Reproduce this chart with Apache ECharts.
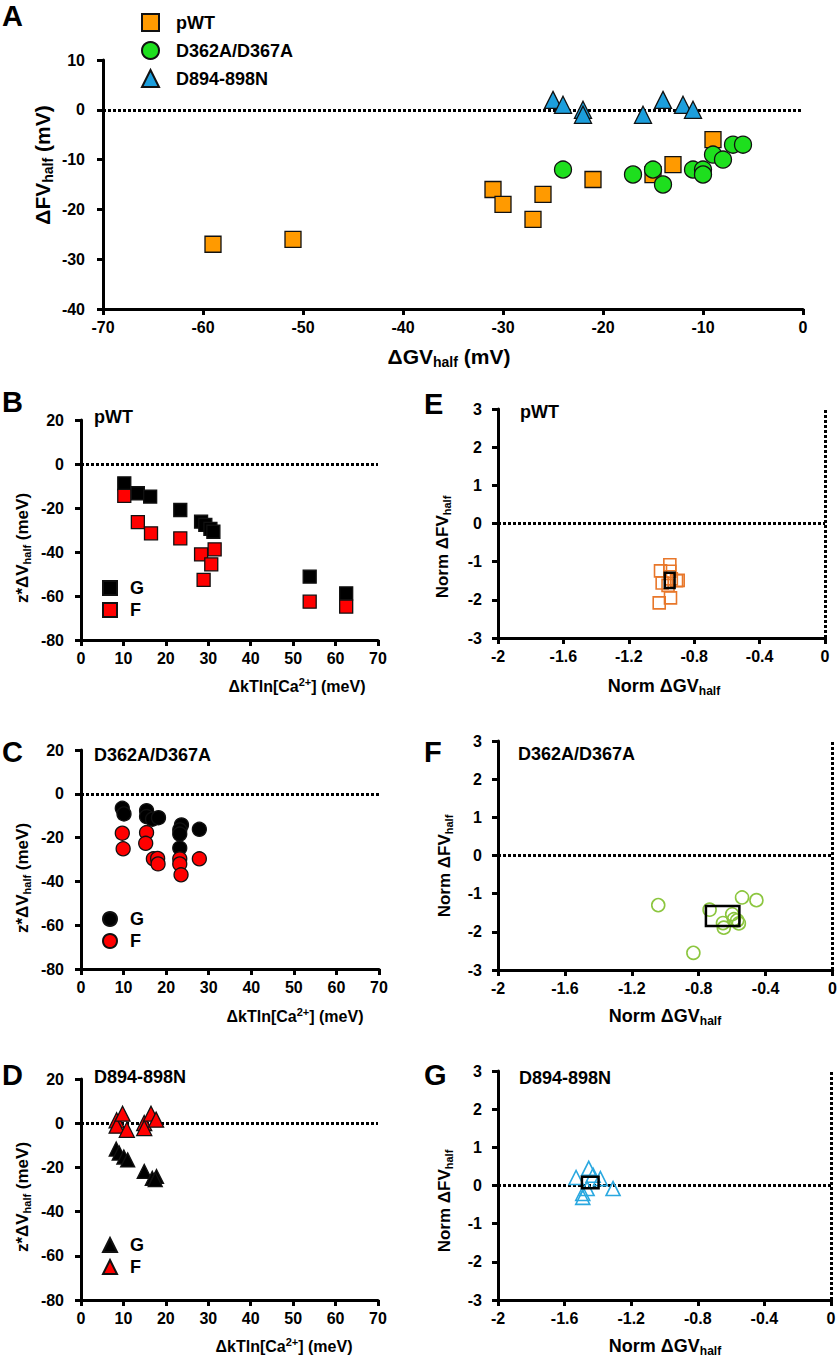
<!DOCTYPE html>
<html>
<head>
<meta charset="utf-8">
<script src="https://cdn.jsdelivr.net/npm/echarts@6/dist/echarts.min.js"></script>
<style>
  html, body { margin: 0; padding: 0; background: #fff; }
  #chart { width: 840px; height: 1358px; }
</style>
</head>
<body>
<div id="chart"></div>
<script>
// ---- data ----
// A: ΔGVhalf (x) vs ΔFVhalf (y), mV
const pwtA = [[-59, -27], [-51, -26], [-31, -16], [-30, -19], [-27, -22], [-26, -17], [-21, -14], [-15, -13], [-13, -11], [-9, -6]];
const d362A = [[-24, -12], [-17, -13], [-15, -12], [-14, -15], [-11, -12], [-10, -12], [-10, -13], [-9, -9], [-8, -10], [-7, -7], [-6, -7]];
const d894A = [[-25, 2], [-24, 1], [-22, 0], [-22, -1], [-16, -1], [-14, 2], [-12, 1], [-11, 0]];

// B-D: ΔkTln[Ca2+] (x) vs z*ΔVhalf (y), meV
const pwtG = [[10.2, -8.8], [13.4, -13.3], [16.3, -14.8], [23.4, -20.9], [28.3, -26.2], [29.3, -27.7], [30.5, -29.5], [31.2, -30.8], [53.9, -51.2], [62.5, -58.8]];
const pwtF = [[10.2, -14.5], [13.4, -26.4], [16.5, -31.5], [23.4, -33.8], [28.3, -41.1], [28.9, -52.7], [30.7, -45.6], [31.5, -38.8], [53.9, -62.6], [62.5, -64.8]];
const d362G = [[9.7, -6.6], [10.1, -9.2], [15.4, -7.7], [15.4, -10.4], [16.8, -11.6], [18.2, -10.9], [23.6, -14.2], [23.2, -16.5], [23.2, -18.4], [23.2, -24.8], [27.8, -16.2]];
const d362F = [[9.7, -18], [9.9, -25.1], [15.4, -17.7], [15.2, -22.6], [17, -29.7], [18, -29.5], [18.1, -32], [23.2, -29.7], [23.2, -32], [23.5, -37], [27.8, -29.7]];
const d894G = [[8.3, -11.7], [9, -13.5], [10.1, -15.3], [11, -16.6], [14.9, -21.8], [16.8, -24.9], [17.8, -24.1], [17.5, -25.5]];
const d894F = [[8.4, 1.3], [8.4, -1.1], [9.8, 4.3], [10.8, -3], [14.9, 0.1], [14.9, -2.2], [16.5, 4.3], [17.7, 1.6]];

// E-G: Norm ΔGVhalf (x) vs Norm ΔFVhalf (y)
const pwtNorm = [[-0.949, -1.08], [-0.949, -1.25], [-1.006, -1.24], [-0.996, -1.56], [-0.908, -1.5], [-0.898, -1.49], [-0.945, -1.95], [-1.014, -2.08], [-0.96, -1.62], [-0.94, -1.45]];
const d362Norm = [[-1.042, -1.3], [-0.832, -2.55], [-0.541, -1.1], [-0.455, -1.17], [-0.735, -1.42], [-0.6, -1.54], [-0.59, -1.67], [-0.655, -1.77], [-0.65, -1.89], [-0.56, -1.78], [-0.57, -1.7]];
const d894Norm = [[-1.531, 0.21], [-1.455, 0.45], [-1.429, 0.27], [-1.385, 0.18], [-1.309, -0.08], [-1.491, -0.21], [-1.491, -0.31], [-1.465, -0.08]];
// mean box: [x, y, half width, half height]
const pwtMean = [-0.95, -1.49, 0.03, 0.2];
const d362Mean = [-0.657, -1.585, 0.1, 0.26];
const d894Mean = [-1.446, 0.08, 0.05, 0.15];

const FONT = 'Liberation Sans, Arial, sans-serif';

const chart = echarts.init(document.getElementById('chart'), null, { renderer: 'svg' });

const grids = [
  { left: 103, top: 60, width: 700, height: 249 },   // A
  { left: 81, top: 420, width: 297, height: 220 },   // B
  { left: 81, top: 750, width: 298, height: 219 },   // C
  { left: 81, top: 1079, width: 297, height: 221 },  // D
  { left: 498, top: 409, width: 327, height: 229 },  // E
  { left: 498, top: 741, width: 336, height: 229 },  // F
  { left: 498, top: 1071, width: 333, height: 229 }  // G
];

function axis (gi, min, max, interval, margin) {
  return {
    type: 'value', gridIndex: gi, min: min, max: max, interval: interval,
    axisLine: { show: true, onZero: false, lineStyle: { color: '#000', width: 3 } },
    axisTick: { show: true, length: 6, lineStyle: { color: '#000', width: 3 } },
    axisLabel: { color: '#000', fontSize: 16, fontWeight: 'bold', fontFamily: FONT, margin: margin, showMinLabel: true, showMaxLabel: true },
    splitLine: { show: false }
  }
}

const xAxes = [axis(0, -70, 0, 10, 10)]
const yAxes = [axis(0, -40, 10, 10, 18)]
for (let i = 1; i <= 3; i++) {
  xAxes.push(axis(i, 0, 70, 10, 10))
  yAxes.push(axis(i, -80, 20, 20, 17))
}
for (let i = 4; i <= 6; i++) {
  xAxes.push(axis(i, -2, 0, 0.4, 10))
  yAxes.push(axis(i, -3, 3, 1, 16))
}

const dotted = { color: '#000', width: 3, type: [3, 2] }
function zeroLine (withX) {
  const d = [{ yAxis: 0 }]
  if (withX) d.push({ xAxis: 0 })
  return { silent: true, z: 1, symbol: 'none', label: { show: false }, lineStyle: dotted, emphasis: { disabled: true }, data: d }
}

function filled (name, gi, data, symbol, size, color, z, line) {
  const s = {
    name: name, type: 'scatter', xAxisIndex: gi, yAxisIndex: gi, data: data, z: z,
    symbol: symbol, symbolSize: size,
    itemStyle: { color: color, borderColor: '#111', borderWidth: 1.3, opacity: 1 }
  }
  if (line) s.markLine = zeroLine(false)
  return s
}

function open (name, gi, data, symbol, size, color) {
  return {
    name: name, type: 'scatter', xAxisIndex: gi, yAxisIndex: gi, data: data, z: 3,
    symbol: symbol, symbolSize: size,
    itemStyle: { color: 'rgba(255,255,255,0)', borderColor: color, borderWidth: 1.6, opacity: 1 },
    markLine: zeroLine(true)
  }
}

function meanBox (gi, box) {
  return {
    type: 'custom', xAxisIndex: gi, yAxisIndex: gi, z: 6, silent: true, data: [box],
    renderItem: function (params, api) {
      const p0 = api.coord([api.value(0) - api.value(2), api.value(1) + api.value(3)])
      const p1 = api.coord([api.value(0) + api.value(2), api.value(1) - api.value(3)])
      return {
        type: 'rect',
        shape: { x: p0[0], y: p0[1], width: p1[0] - p0[0], height: p1[1] - p0[1] },
        style: { fill: 'none', stroke: '#000', lineWidth: 2.5 }
      }
    }
  }
}

const series = [
  filled('pWT', 0, pwtA, 'rect', 16, '#FF9A00', 3, true),
  filled('D362A/D367A', 0, d362A, 'circle', 17, '#1EDF1E', 4),
  filled('D894-898N', 0, d894A, 'triangle', 17, '#1C9EDC', 4),
  filled('B-G', 1, pwtG, 'rect', 13, '#000', 3, true),
  filled('B-F', 1, pwtF, 'rect', 13, '#FF0000', 4),
  filled('C-G', 2, d362G, 'circle', 14, '#000', 3, true),
  filled('C-F', 2, d362F, 'circle', 14, '#FF0000', 4),
  filled('D-G', 3, d894G, 'triangle', 14, '#000', 3, true),
  filled('D-F', 3, d894F, 'triangle', 15, '#FF0000', 4),
  open('E', 4, pwtNorm, 'rect', 12, '#E8772A'),
  open('F', 5, d362Norm, 'circle', 13, '#8CC63F'),
  open('G', 6, d894Norm, 'triangle', 14, '#2AA8E0'),
  meanBox(4, pwtMean),
  meanBox(5, d362Mean),
  meanBox(6, d894Mean)
]

const legendText = { fontSize: 18, fontWeight: 'bold', fontFamily: FONT, color: '#000', padding: [0, 0, 0, 8] }
function smallLegend (top, names, icon) {
  return {
    orient: 'vertical', left: 97, top: top, itemWidth: 14, itemHeight: 14, itemGap: 4,
    selectedMode: false, icon: icon,
    formatter: function (n) { return n.slice(2) },
    textStyle: legendText, data: names
  }
}

const legends = [
  {
    orient: 'vertical', left: 136, top: 8, itemWidth: 17, itemHeight: 17, itemGap: 9, selectedMode: false,
    textStyle: { fontSize: 18, fontWeight: 'bold', fontFamily: FONT, color: '#000', padding: [0, 0, 0, 12] },
    data: [{ name: 'pWT', icon: 'rect' }, { name: 'D362A/D367A', icon: 'circle' }, { name: 'D894-898N', icon: 'triangle' }]
  },
  smallLegend(574, ['B-G', 'B-F'], 'rect'),
  smallLegend(905, ['C-G', 'C-F'], 'circle'),
  smallLegend(1231, ['D-G', 'D-F'], 'triangle')
]

function richSet (big, small, lift) {
  return {
    m: { fontSize: big, fontWeight: 'bold', fontFamily: FONT, fill: '#000' },
    s: { fontSize: small, fontWeight: 'bold', fontFamily: FONT, fill: '#000', padding: [lift, 0, 0, 0] },
    p: { fontSize: small, fontWeight: 'bold', fontFamily: FONT, fill: '#000', padding: [0, 0, lift, 0] }
  }
}
function txt (x, y, text, size, rot, align) {
  const small = Math.round(size * 0.66)
  return {
    type: 'text', x: x, y: y, rotation: rot || 0, silent: true,
    style: { text: text, rich: richSet(size, small, Math.round(size * 0.55)), fill: '#000', font: 'bold ' + size + 'px ' + FONT, align: align || 'center', verticalAlign: 'middle' }
  }
}
function letter (x, y, t) {
  return { type: 'text', x: x, y: y, silent: true, style: { text: t, fill: '#000', font: 'bold 29px ' + FONT, align: 'left', verticalAlign: 'middle' } }
}

const up = Math.PI / 2
const fvmV = '{m|ΔFV}{s|half}{m| (mV)}'
const gvmV = '{m|ΔGV}{s|half}{m| (mV)}'
const zdv = '{m|z*ΔV}{s|half}{m| (meV)}'
const ktln = '{m|ΔkTln[Ca}{p|2+}{m|] (meV)}'
const nfv = '{m|Norm ΔFV}{s|half}'
const ngv = '{m|Norm ΔGV}{s|half}'

const graphics = [
  letter(2, 16, 'A'), letter(2, 402, 'B'), letter(2, 752, 'C'), letter(2, 1075, 'D'),
  letter(424, 404, 'E'), letter(424, 752, 'F'), letter(424, 1075, 'G'),
  txt(42, 165, fvmV, 21, up), txt(449, 356, gvmV, 21),
  txt(22, 548, zdv, 17, up), txt(297, 686, ktln, 16),
  txt(22, 878, zdv, 17, up), txt(295, 1016, ktln, 16),
  txt(22, 1197, zdv, 17, up), txt(284, 1346, ktln, 16),
  txt(442, 547, nfv, 17, up), txt(664, 686, ngv, 18),
  txt(444, 866, nfv, 17, up), txt(665, 1016, ngv, 18),
  txt(444, 1201, nfv, 17, up), txt(665, 1346, ngv, 18),
  txt(94, 417, '{m|pWT}', 18, 0, 'left'),
  txt(94, 755, '{m|D362A/D367A}', 18, 0, 'left'),
  txt(94, 1077, '{m|D894-898N}', 18, 0, 'left'),
  txt(520, 412, '{m|pWT}', 18, 0, 'left'),
  txt(518, 754, '{m|D362A/D367A}', 18, 0, 'left'),
  txt(519, 1078, '{m|D894-898N}', 18, 0, 'left')
]

chart.setOption({
  backgroundColor: '#fff',
  animation: false,
  grid: grids,
  xAxis: xAxes,
  yAxis: yAxes,
  legend: legends,
  series: series,
  graphic: graphics
})
</script>
</body>
</html>
